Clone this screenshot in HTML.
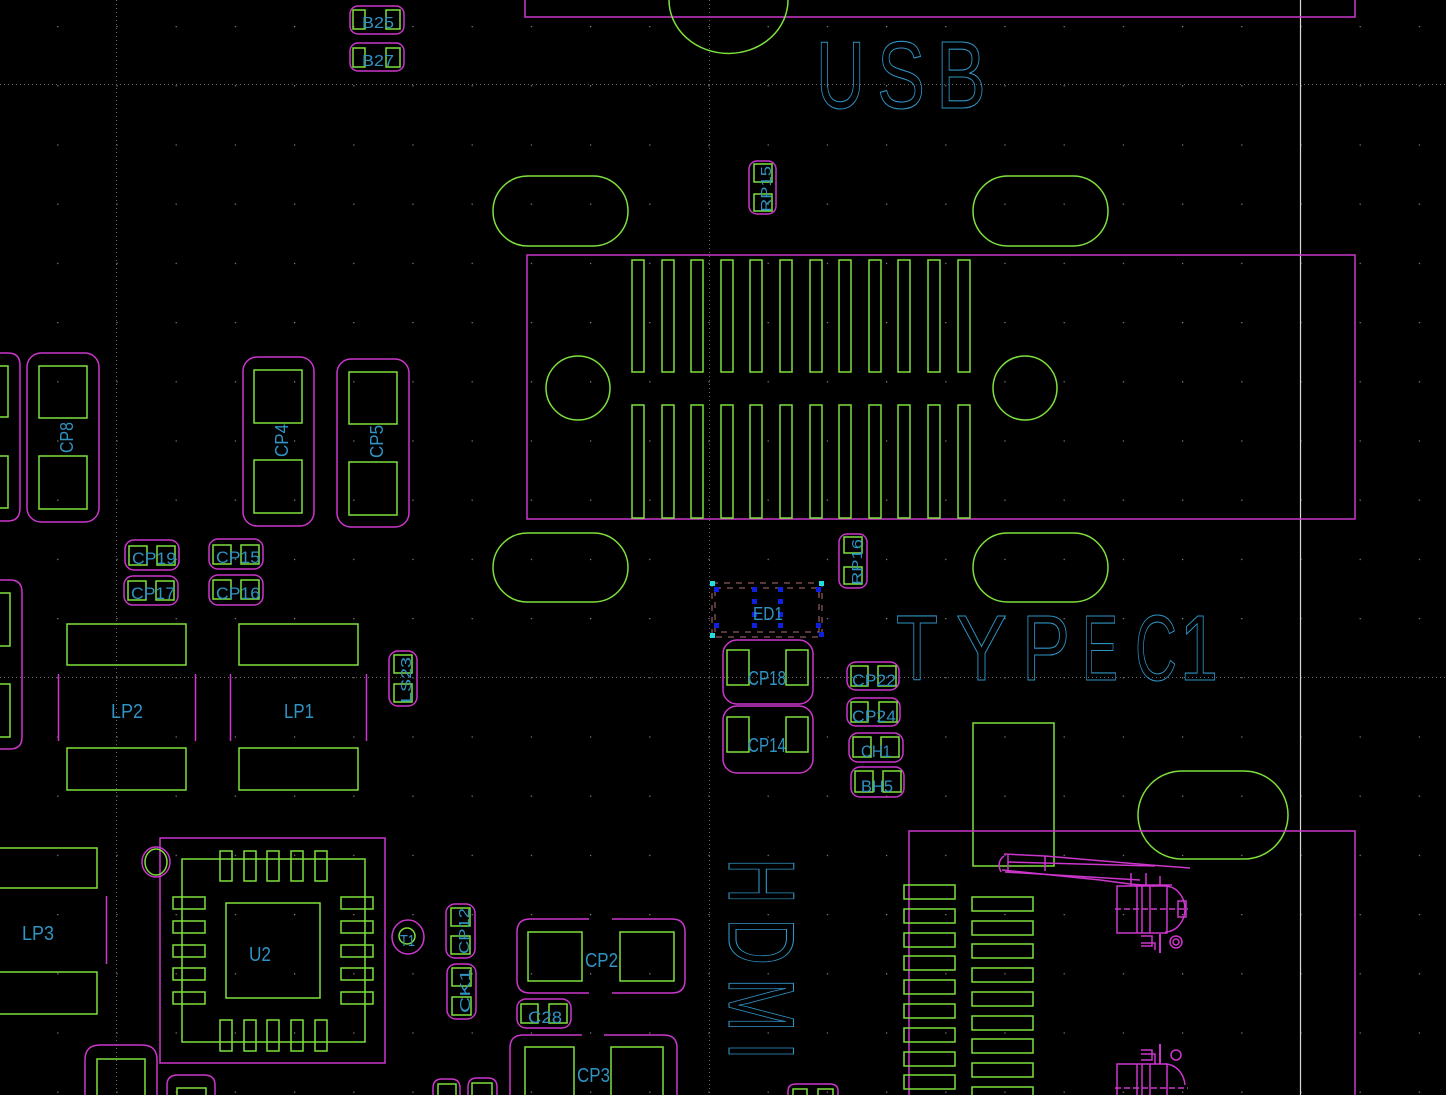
<!DOCTYPE html>
<html><head><meta charset="utf-8"><style>
html,body{margin:0;padding:0;background:#000;overflow:hidden}
svg{display:block}
.g{fill:none;stroke:#7ee03c;stroke-width:1.5}
.m{fill:none;stroke:#cc36cc;stroke-width:1.5}
.t{fill:#2f93c4;font-family:"Liberation Sans",sans-serif}
.big{fill:none;stroke:#2f93c4;stroke-width:1.1;font-family:"Liberation Sans",sans-serif}
</style></head><body>
<svg width="1446" height="1095" viewBox="0 0 1446 1095" xmlns="http://www.w3.org/2000/svg">
<defs>
<pattern id="dots" x="-2" y="26" width="59.2" height="59.2" patternUnits="userSpaceOnUse">
<rect x="0" y="0" width="1.2" height="1.2" fill="#8a8a8a"/>
</pattern>
</defs>
<rect width="1446" height="1095" fill="#000"/>
<rect width="1446" height="1095" fill="url(#dots)"/>
<g stroke="#666" stroke-width="1" stroke-dasharray="1 3">
<line x1="0" y1="84.5" x2="1446" y2="84.5"/>
<line x1="0" y1="677.5" x2="1446" y2="677.5"/>
<line x1="116.5" y1="0" x2="116.5" y2="1095"/>
<line x1="709.5" y1="0" x2="709.5" y2="1095"/>
</g>
<line x1="1300.5" y1="0" x2="1300.5" y2="1095" stroke="#d8d8d8" stroke-width="1.2"/>

<!-- USB top -->
<polyline class="m" points="525,0 525,17 1355,17 1355,0"/>
<path class="g" d="M669,0 A59,53 0 0 0 788,0"/>
<g class="big" font-size="96">
<text x="816" y="108" textLength="49" lengthAdjust="spacingAndGlyphs">U</text>
<text x="877" y="108" textLength="48" lengthAdjust="spacingAndGlyphs">S</text>
<text x="936" y="108" textLength="50" lengthAdjust="spacingAndGlyphs">B</text>
</g>

<!-- B25 B27 -->
<rect class="m" x="350" y="6" width="54" height="28" rx="8"/>
<rect class="g" x="353" y="10" width="12" height="19"/><rect class="g" x="386" y="10" width="14" height="19"/>
<text class="t" x="362" y="28" font-size="16" textLength="32" lengthAdjust="spacingAndGlyphs">B25</text>
<rect class="m" x="350" y="43" width="54" height="28" rx="8"/>
<rect class="g" x="353" y="48" width="12" height="19"/><rect class="g" x="386" y="48" width="14" height="19"/>
<text class="t" x="362" y="66" font-size="16" textLength="32" lengthAdjust="spacingAndGlyphs">B27</text>

<!-- RP15 -->
<rect class="m" x="749" y="161" width="27" height="53" rx="8"/>
<rect class="g" x="754" y="164" width="18" height="18"/><rect class="g" x="754" y="194" width="18" height="17"/>
<text class="t" font-size="15" transform="translate(771,212) rotate(-90)" textLength="46" lengthAdjust="spacingAndGlyphs">RP15</text>

<!-- slots -->
<rect class="g" x="493" y="176" width="135" height="70" rx="35"/>
<rect class="g" x="973" y="176" width="135" height="70" rx="35"/>
<rect class="g" x="493" y="533" width="135" height="69" rx="34.5"/>
<rect class="g" x="973" y="533" width="135" height="69" rx="34.5"/>
<rect class="g" x="1138" y="771" width="150" height="88" rx="44"/>

<!-- USB body -->
<rect class="m" x="527" y="255" width="828" height="264"/>
<circle class="g" cx="578" cy="388" r="32"/>
<circle class="g" cx="1025" cy="388" r="32"/>
<g class="g">
<rect x="632" y="260" width="12" height="112"/><rect x="662" y="260" width="12" height="112"/><rect x="691" y="260" width="12" height="112"/><rect x="721" y="260" width="12" height="112"/><rect x="750" y="260" width="12" height="112"/><rect x="780" y="260" width="12" height="112"/><rect x="810" y="260" width="12" height="112"/><rect x="839" y="260" width="12" height="112"/><rect x="869" y="260" width="12" height="112"/><rect x="898" y="260" width="12" height="112"/><rect x="928" y="260" width="12" height="112"/><rect x="958" y="260" width="12" height="112"/>
<rect x="632" y="405" width="12" height="113"/><rect x="662" y="405" width="12" height="113"/><rect x="691" y="405" width="12" height="113"/><rect x="721" y="405" width="12" height="113"/><rect x="750" y="405" width="12" height="113"/><rect x="780" y="405" width="12" height="113"/><rect x="810" y="405" width="12" height="113"/><rect x="839" y="405" width="12" height="113"/><rect x="869" y="405" width="12" height="113"/><rect x="898" y="405" width="12" height="113"/><rect x="928" y="405" width="12" height="113"/><rect x="958" y="405" width="12" height="113"/>
</g>

<!-- RP16 -->
<rect class="m" x="839" y="534" width="28" height="54" rx="8"/>
<rect class="g" x="844" y="537" width="18" height="16"/><rect class="g" x="844" y="567" width="18" height="17"/>
<text class="t" font-size="15" transform="translate(862,585) rotate(-90)" textLength="46" lengthAdjust="spacingAndGlyphs">RP16</text>

<!-- ED1 -->
<rect x="712" y="583" width="110" height="54" fill="none" stroke="#b07070" stroke-width="1" stroke-dasharray="6 6"/>
<rect x="715" y="588" width="104" height="44" fill="none" stroke="#b07070" stroke-width="1" stroke-dasharray="6 6"/>
<g fill="#1020e0">
<rect x="714" y="587" width="5" height="5"/><rect x="752" y="587" width="5" height="5"/><rect x="778" y="587" width="5" height="5"/><rect x="816" y="587" width="5" height="5"/>
<rect x="714" y="623" width="5" height="5"/><rect x="752" y="623" width="5" height="5"/><rect x="778" y="623" width="5" height="5"/><rect x="816" y="623" width="5" height="5"/>
<rect x="752" y="599" width="5" height="5"/><rect x="778" y="599" width="5" height="5"/><rect x="752" y="612" width="5" height="5"/><rect x="778" y="612" width="5" height="5"/>
<rect x="819" y="632" width="5" height="5"/>
</g>
<g fill="#20e0e0"><rect x="710" y="581" width="5" height="5"/><rect x="819" y="581" width="5" height="5"/><rect x="710" y="633" width="5" height="5"/></g>
<text class="t" x="753" y="620" font-size="18" textLength="30" lengthAdjust="spacingAndGlyphs">ED1</text>

<!-- CP18 CP14 -->
<rect class="m" x="723" y="640" width="90" height="64" rx="14"/>
<rect class="g" x="727" y="650" width="22" height="35"/><rect class="g" x="786" y="650" width="22" height="35"/>
<text class="t" x="748" y="685" font-size="20" textLength="38" lengthAdjust="spacingAndGlyphs">CP18</text>
<rect class="m" x="723" y="706" width="90" height="67" rx="14"/>
<rect class="g" x="727" y="717" width="22" height="35"/><rect class="g" x="786" y="717" width="22" height="35"/>
<text class="t" x="748" y="752" font-size="20" textLength="38" lengthAdjust="spacingAndGlyphs">CP14</text>

<!-- small caps -->
<rect class="m" x="847" y="662" width="52" height="28" rx="9"/>
<rect class="g" x="851" y="666" width="17" height="20"/><rect class="g" x="878" y="666" width="18" height="20"/>
<text class="t" x="852" y="686" font-size="17" textLength="44" lengthAdjust="spacingAndGlyphs">CP22</text>
<rect class="m" x="847" y="698" width="53" height="28" rx="9"/>
<rect class="g" x="851" y="702" width="17" height="20"/><rect class="g" x="879" y="702" width="18" height="20"/>
<text class="t" x="852" y="722" font-size="17" textLength="44" lengthAdjust="spacingAndGlyphs">CP24</text>
<rect class="m" x="849" y="733" width="54" height="29" rx="9"/>
<rect class="g" x="853" y="737" width="18" height="20"/><rect class="g" x="881" y="737" width="18" height="20"/>
<text class="t" x="861" y="757" font-size="17" textLength="30" lengthAdjust="spacingAndGlyphs">CH1</text>
<rect class="m" x="851" y="767" width="53" height="30" rx="9"/>
<rect class="g" x="855" y="771" width="18" height="21"/><rect class="g" x="883" y="771" width="18" height="21"/>
<text class="t" x="861" y="792" font-size="17" textLength="32" lengthAdjust="spacingAndGlyphs">BH5</text>

<!-- TYPEC1 -->
<g class="big" font-size="93">
<text x="896" y="680" textLength="42" lengthAdjust="spacingAndGlyphs">T</text>
<text x="956" y="680" textLength="51" lengthAdjust="spacingAndGlyphs">Y</text>
<text x="1022" y="680" textLength="48" lengthAdjust="spacingAndGlyphs">P</text>
<text x="1082" y="680" textLength="36" lengthAdjust="spacingAndGlyphs">E</text>
<text x="1135" y="680" textLength="42" lengthAdjust="spacingAndGlyphs">C</text>
<text x="1180" y="680" textLength="38" lengthAdjust="spacingAndGlyphs">1</text>
</g>

<!-- HDMI -->
<g class="big" font-size="94">
<text transform="translate(729,858) rotate(90)" textLength="46" lengthAdjust="spacingAndGlyphs">H</text>
<text transform="translate(729,918) rotate(90)" textLength="47" lengthAdjust="spacingAndGlyphs">D</text>
<text transform="translate(729,978) rotate(90)" textLength="54" lengthAdjust="spacingAndGlyphs">M</text>
<text transform="translate(729,1042) rotate(90)" textLength="18" lengthAdjust="spacingAndGlyphs">I</text>
</g>

<!-- HDMI connector -->
<rect class="g" x="973" y="723" width="81" height="143"/>
<polyline class="m" points="909,1095 909,831 1355,831 1355,1095"/>
<g class="g">
<rect x="904" y="885" width="51" height="14"/><rect x="904" y="909" width="51" height="14"/><rect x="904" y="933" width="51" height="14"/><rect x="904" y="956" width="51" height="14"/><rect x="904" y="980" width="51" height="14"/><rect x="904" y="1004" width="51" height="14"/><rect x="904" y="1028" width="51" height="14"/><rect x="904" y="1052" width="51" height="14"/><rect x="904" y="1075" width="51" height="14"/>
<rect x="972" y="897" width="61" height="14"/><rect x="972" y="921" width="61" height="14"/><rect x="972" y="944" width="61" height="14"/><rect x="972" y="968" width="61" height="14"/><rect x="972" y="992" width="61" height="14"/><rect x="972" y="1016" width="61" height="14"/><rect x="972" y="1039" width="61" height="14"/><rect x="972" y="1063" width="61" height="14"/><rect x="972" y="1087" width="61" height="14"/>
</g>
<g class="m" stroke-width="1.3">
<path d="M1004,854 L1045,856 L1150,865 L1190,868"/>
<path d="M1002,870 L1100,880 L1130,884 L1155,886"/>
<path d="M1004,856 Q996,862 1001,872 M1008,855 L1008,872 M1045,856 L1045,871"/>
<path d="M1008,862 L1155,866 M1005,872 L1140,880"/>
<rect x="1117" y="886" width="50" height="47"/>
<line x1="1137" y1="886" x2="1137" y2="933"/><line x1="1142" y1="886" x2="1142" y2="933"/><line x1="1150" y1="886" x2="1150" y2="933"/>
<path d="M1165,886 A20,23 0 0 1 1165,932"/>
<rect x="1178" y="901" width="8" height="16"/>
<line x1="1115" y1="909" x2="1188" y2="909" stroke-dasharray="6 3"/>
<path d="M1131,873 L1131,886 M1146,873 L1146,886 M1160,876 L1160,886 M1135,885 L1172,885"/>
<path d="M1141,936 L1152,936 L1152,946 L1141,946 M1141,943 L1155,943 L1155,950"/>
<line x1="1160" y1="934" x2="1160" y2="953" stroke-width="2"/>
<circle cx="1176" cy="942" r="6"/><circle cx="1176" cy="942" r="3"/>
<rect x="1117" y="1064" width="50" height="40"/>
<line x1="1137" y1="1064" x2="1137" y2="1095"/><line x1="1142" y1="1064" x2="1142" y2="1095"/><line x1="1150" y1="1064" x2="1150" y2="1095"/>
<path d="M1165,1064 A20,23 0 0 1 1185,1085"/>
<path d="M1141,1060 L1152,1060 L1152,1050 L1141,1050 M1141,1054 L1155,1054 L1155,1064"/>
<line x1="1160" y1="1044" x2="1160" y2="1064" stroke-width="2"/>
<circle cx="1176" cy="1055" r="5"/>
<line x1="1115" y1="1088" x2="1188" y2="1088" stroke-dasharray="6 3"/>
</g>

<!-- left partial caps -->
<path class="m" d="M0,353 L8,353 Q20,353 20,365 L20,508 Q20,521 8,521 L0,521"/>
<rect class="g" x="-2" y="366" width="10" height="51"/><rect class="g" x="-2" y="456" width="10" height="52"/>
<path class="m" d="M0,580 L10,580 Q22,580 22,592 L22,737 Q22,749 10,749 L0,749"/>
<rect class="g" x="-2" y="593" width="12" height="53"/><rect class="g" x="-2" y="684" width="12" height="53"/>

<!-- CP8 CP4 CP5 -->
<rect class="m" x="27" y="353" width="72" height="169" rx="14"/>
<rect class="g" x="39" y="366" width="48" height="52"/><rect class="g" x="39" y="456" width="48" height="53"/>
<text class="t" font-size="18" transform="translate(73,453) rotate(-90)" textLength="31" lengthAdjust="spacingAndGlyphs">CP8</text>
<rect class="m" x="243" y="357" width="71" height="169" rx="14"/>
<rect class="g" x="254" y="370" width="48" height="53"/><rect class="g" x="254" y="460" width="48" height="53"/>
<text class="t" font-size="18" transform="translate(288,457) rotate(-90)" textLength="33" lengthAdjust="spacingAndGlyphs">CP4</text>
<rect class="m" x="337" y="359" width="72" height="168" rx="14"/>
<rect class="g" x="349" y="372" width="48" height="52"/><rect class="g" x="349" y="462" width="48" height="53"/>
<text class="t" font-size="18" transform="translate(383,458) rotate(-90)" textLength="33" lengthAdjust="spacingAndGlyphs">CP5</text>

<!-- CP19 CP17 CP15 CP16 -->
<rect class="m" x="125" y="540" width="54" height="30" rx="9"/>
<rect class="g" x="129" y="546" width="18" height="19"/><rect class="g" x="157" y="546" width="18" height="19"/>
<text class="t" x="132" y="564" font-size="17" textLength="44" lengthAdjust="spacingAndGlyphs">CP19</text>
<rect class="m" x="124" y="576" width="54" height="29" rx="9"/>
<rect class="g" x="128" y="581" width="18" height="19"/><rect class="g" x="156" y="581" width="18" height="19"/>
<text class="t" x="131" y="599" font-size="17" textLength="44" lengthAdjust="spacingAndGlyphs">CP17</text>
<rect class="m" x="209" y="539" width="54" height="30" rx="9"/>
<rect class="g" x="213" y="545" width="18" height="19"/><rect class="g" x="241" y="545" width="18" height="19"/>
<text class="t" x="216" y="563" font-size="17" textLength="44" lengthAdjust="spacingAndGlyphs">CP15</text>
<rect class="m" x="209" y="575" width="54" height="30" rx="9"/>
<rect class="g" x="213" y="580" width="18" height="19"/><rect class="g" x="241" y="580" width="18" height="19"/>
<text class="t" x="216" y="599" font-size="17" textLength="44" lengthAdjust="spacingAndGlyphs">CP16</text>

<!-- LP2 LP1 -->
<rect class="g" x="67" y="624" width="119" height="41"/><rect class="g" x="67" y="748" width="119" height="42"/>
<line class="m" x1="58.5" y1="674" x2="58.5" y2="741"/><line class="m" x1="195.5" y1="674" x2="195.5" y2="741"/>
<text class="t" x="111" y="718" font-size="20" textLength="32" lengthAdjust="spacingAndGlyphs">LP2</text>
<rect class="g" x="239" y="624" width="119" height="41"/><rect class="g" x="239" y="748" width="119" height="42"/>
<line class="m" x1="230.5" y1="674" x2="230.5" y2="741"/><line class="m" x1="366.5" y1="674" x2="366.5" y2="741"/>
<text class="t" x="284" y="718" font-size="20" textLength="30" lengthAdjust="spacingAndGlyphs">LP1</text>

<!-- LS23 -->
<rect class="m" x="389" y="651" width="28" height="55" rx="9"/>
<rect class="g" x="394" y="655" width="18" height="18"/><rect class="g" x="394" y="684" width="18" height="18"/>
<text class="t" font-size="15" transform="translate(411,703) rotate(-90)" textLength="46" lengthAdjust="spacingAndGlyphs">LS23</text>

<!-- LP3 -->
<rect class="g" x="-2" y="848" width="99" height="40"/><rect class="g" x="-2" y="972" width="99" height="42"/>
<line class="m" x1="106.5" y1="896" x2="106.5" y2="964"/>
<text class="t" x="22" y="940" font-size="20" textLength="32" lengthAdjust="spacingAndGlyphs">LP3</text>

<!-- U2 -->
<rect class="m" x="160" y="838" width="225" height="225"/>
<rect class="g" x="182" y="859" width="183" height="183"/>
<rect class="g" x="226" y="903" width="94" height="95"/>
<ellipse class="m" cx="156" cy="862" rx="14" ry="15"/><ellipse class="g" cx="156" cy="862" rx="11" ry="13"/>
<g class="g">
<rect x="220" y="851" width="12" height="30"/><rect x="244" y="851" width="12" height="30"/><rect x="267" y="851" width="12" height="30"/><rect x="291" y="851" width="12" height="30"/><rect x="315" y="851" width="12" height="30"/>
<rect x="220" y="1020" width="12" height="31"/><rect x="244" y="1020" width="12" height="31"/><rect x="267" y="1020" width="12" height="31"/><rect x="291" y="1020" width="12" height="31"/><rect x="315" y="1020" width="12" height="31"/>
<rect x="173" y="897" width="32" height="12"/><rect x="173" y="921" width="32" height="12"/><rect x="173" y="945" width="32" height="12"/><rect x="173" y="968" width="32" height="12"/><rect x="173" y="992" width="32" height="12"/>
<rect x="341" y="897" width="32" height="12"/><rect x="341" y="921" width="32" height="12"/><rect x="341" y="945" width="32" height="12"/><rect x="341" y="968" width="32" height="12"/><rect x="341" y="992" width="32" height="12"/>
</g>
<text class="t" x="249" y="961" font-size="20" textLength="22" lengthAdjust="spacingAndGlyphs">U2</text>

<!-- T1 -->
<ellipse class="m" cx="408" cy="937" rx="16" ry="17"/><circle class="g" cx="407" cy="936" r="8"/>
<text class="t" x="400" y="946" font-size="16" textLength="15" lengthAdjust="spacingAndGlyphs">T1</text>

<!-- CP12 CK1 -->
<rect class="m" x="446" y="904" width="29" height="54" rx="9"/>
<rect class="g" x="451" y="908" width="19" height="18"/><rect class="g" x="451" y="936" width="19" height="18"/>
<text class="t" font-size="15" transform="translate(469,954) rotate(-90)" textLength="46" lengthAdjust="spacingAndGlyphs">CP12</text>
<rect class="m" x="447" y="964" width="29" height="55" rx="9"/>
<rect class="g" x="452" y="968" width="19" height="18"/><rect class="g" x="452" y="997" width="19" height="18"/>
<text class="t" font-size="15" transform="translate(470,1013) rotate(-90)" textLength="44" lengthAdjust="spacingAndGlyphs">CK1</text>

<!-- CP2 C28 CP3 -->
<path class="m" d="M589,919 L530,919 Q517,919 517,932 L517,980 Q517,993 530,993 L589,993 M612,919 L672,919 Q685,919 685,932 L685,980 Q685,993 672,993 L612,993"/>
<rect class="g" x="528" y="932" width="54" height="49"/><rect class="g" x="620" y="932" width="54" height="49"/>
<text class="t" x="585" y="967" font-size="20" textLength="33" lengthAdjust="spacingAndGlyphs">CP2</text>
<rect class="m" x="517" y="999" width="54" height="29" rx="9"/>
<rect class="g" x="521" y="1004" width="17" height="19"/><rect class="g" x="549" y="1004" width="18" height="19"/>
<text class="t" x="528" y="1023" font-size="17" textLength="34" lengthAdjust="spacingAndGlyphs">C28</text>
<path class="m" d="M582,1035 L523,1035 Q510,1035 510,1048 L510,1095 M604,1035 L664,1035 Q677,1035 677,1048 L677,1095"/>
<rect class="g" x="525" y="1047" width="49" height="60"/><rect class="g" x="611" y="1047" width="52" height="60"/>
<text class="t" x="577" y="1082" font-size="20" textLength="33" lengthAdjust="spacingAndGlyphs">CP3</text>

<!-- bottom partials -->
<path class="m" d="M85,1095 L85,1060 Q85,1045 100,1045 L142,1045 Q157,1045 157,1060 L157,1095"/>
<rect class="g" x="97" y="1059" width="48" height="50"/>
<path class="m" d="M167,1095 L167,1085 Q167,1075 178,1075 L204,1075 Q215,1075 215,1085 L215,1095"/>
<rect class="g" x="177" y="1088" width="29" height="20"/>
<path class="m" d="M433,1095 L433,1088 Q433,1079 442,1079 L451,1079 Q460,1079 460,1088 L460,1095"/>
<rect class="g" x="438" y="1084" width="18" height="20"/>
<path class="m" d="M468,1095 L468,1087 Q468,1078 477,1078 L488,1078 Q497,1078 497,1087 L497,1095"/>
<rect class="g" x="472" y="1083" width="20" height="20"/>
<path class="m" d="M788,1095 L788,1091 Q788,1084 796,1084 L830,1084 Q838,1084 838,1091 L838,1095"/>
<rect class="g" x="793" y="1089" width="14" height="12"/><rect class="g" x="818" y="1089" width="15" height="12"/>
</svg>
</body></html>
